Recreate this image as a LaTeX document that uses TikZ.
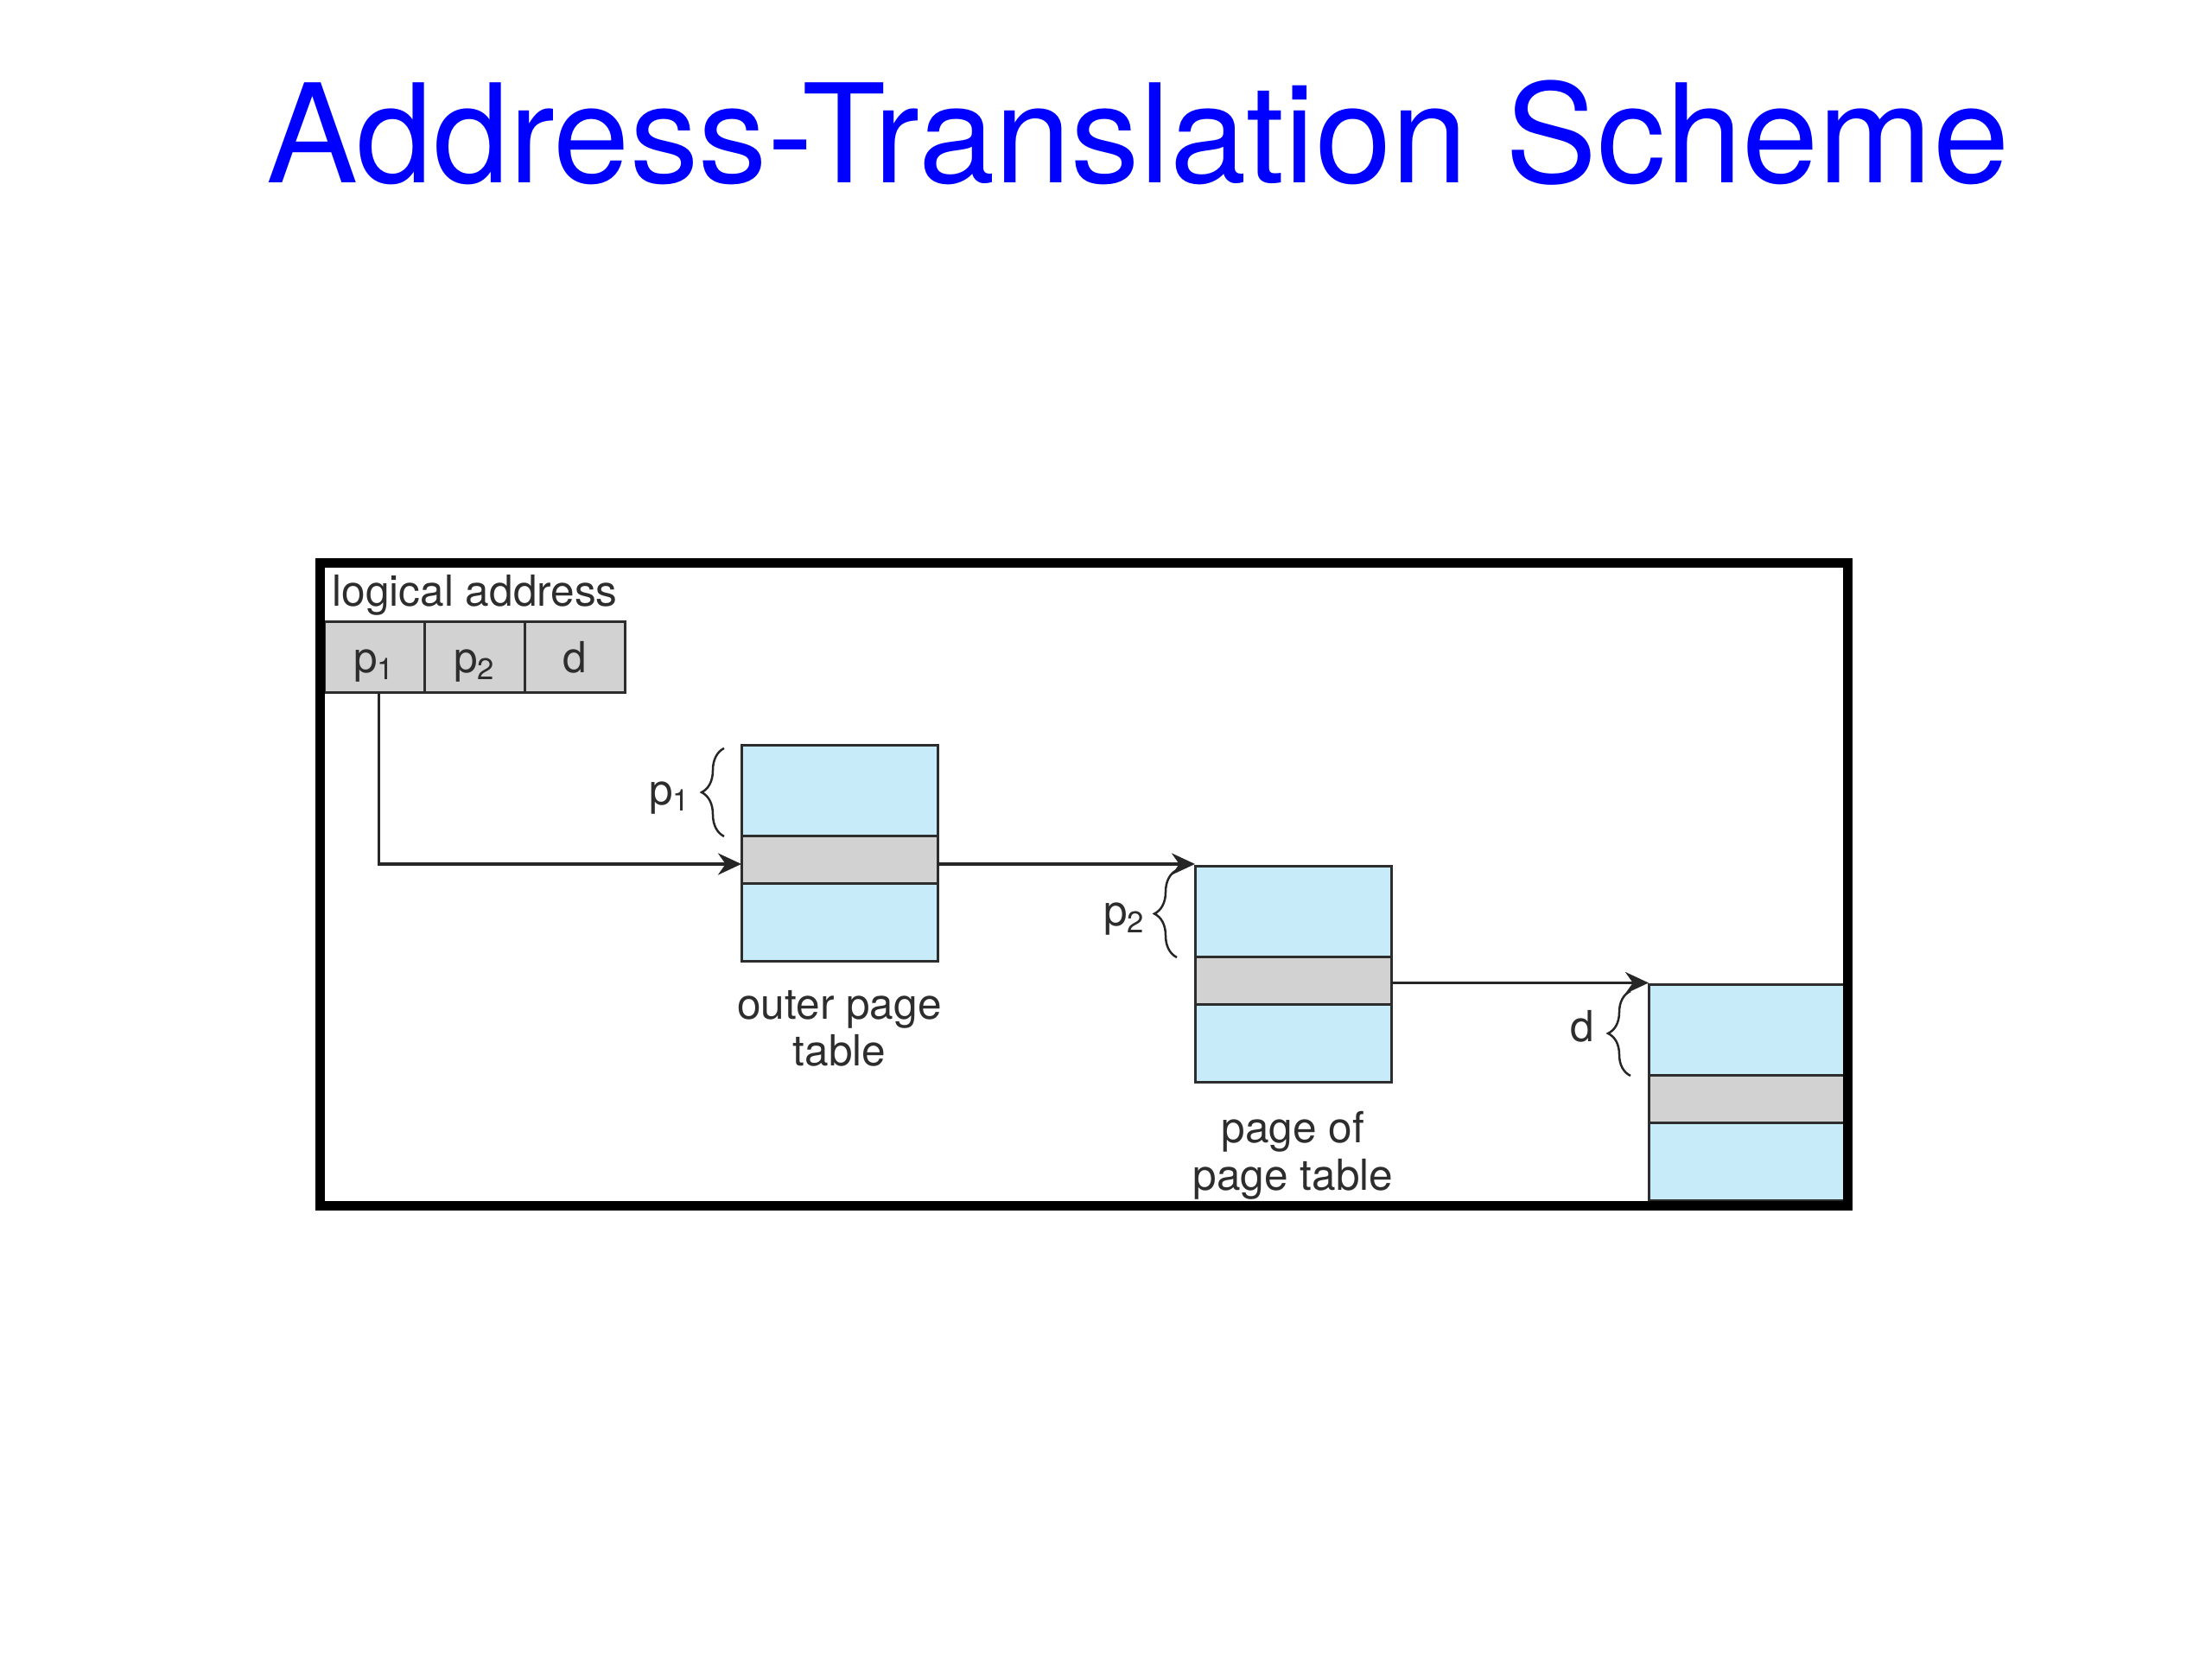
\documentclass[tikz,border=0pt]{standalone}
\usepackage{fontspec}
\setmainfont{TeX Gyre Heros}
\usepackage{tikz}
\usetikzlibrary{positioning, arrows.meta, decorations.pathreplacing}

\definecolor{titleblue}{RGB}{0,0,255}
\definecolor{tblblue}{RGB}{200,235,250}
\definecolor{cellgray}{RGB}{210,210,210}
\definecolor{inkgray}{RGB}{45,45,45}

\begin{document}
\begin{tikzpicture}[
    font=\fontsize{14.1}{15.4}\selectfont, text=inkgray,
    addrcell/.style={draw=inkgray, fill=cellgray, line width=0.3mm, inner sep=0pt, outer sep=0pt,
      minimum width=1.16cm, minimum height=0.82cm, text height=3.5mm, text depth=0mm},
    slot/.style={draw=inkgray, line width=0.3mm, inner sep=0pt, outer sep=0pt, minimum width=2.27cm},
    fwd/.style={draw=black!85, line width=0.35mm, -{Stealth[length=2.7mm, width=2.5mm]}},
    brc/.style={draw=black!85, line width=0.25mm, decorate, decoration={brace, amplitude=2.6mm}}
  ]
  \useasboundingbox (0,0) rectangle (25.6,19.2);

  % Title
  \node[font=\fontsize{45.2}{50}\selectfont, text=titleblue, anchor=base, inner sep=0pt]
    (title) at (13.17,17.08) {Address-Translation Scheme};

  % Logical address p1 | p2 | d
  \node[anchor=base west, inner sep=0pt] (lalbl) at (3.84,12.18) {logical address};
  \node[addrcell] (p1) at (4.335,11.59) {p\textsubscript{1}};
  \node[addrcell, right=0cm of p1] (p2) {p\textsubscript{2}};
  \node[addrcell, right=0cm of p2] (dd) {d};

  % Outer page table
  \node[slot, fill=tblblue, minimum height=1.05cm, anchor=north west] (outTop) at (8.58,10.57) {};
  \node[slot, fill=cellgray, minimum height=0.55cm, below=0cm of outTop] (outRow) {};
  \node[slot, fill=tblblue, minimum height=0.90cm, below=0cm of outRow] (outBot) {};
  \node[below=3.3mm of outBot, align=center, inner sep=0pt] (outLbl) {outer page\\table};

  % Page of page table
  \node[slot, fill=tblblue, minimum height=1.05cm, anchor=north west] (pgTop) at (13.83,9.17) {};
  \node[slot, fill=cellgray, minimum height=0.55cm, below=0cm of pgTop] (pgRow) {};
  \node[slot, fill=tblblue, minimum height=0.90cm, below=0cm of pgRow] (pgBot) {};
  \node[below=3.3mm of pgBot, align=center, inner sep=0pt] (pgLbl) {page of\\page table};

  % Frame in memory
  \node[slot, fill=tblblue, minimum height=1.05cm, anchor=north west] (frTop) at (19.08,7.80) {};
  \node[slot, fill=cellgray, minimum height=0.55cm, below=0cm of frTop] (frRow) {};
  \node[slot, fill=tblblue, minimum height=0.90cm, below=0cm of frRow] (frBot) {};

  % Arrows
  \draw[fwd] ([xshift=0.5mm]p1.south) |- ([yshift=-0.45mm]outRow.west);
  \draw[fwd] ([yshift=-0.45mm]outRow.east) -- ([yshift=-0.45mm]outRow.east -| pgTop.west);
  \draw[fwd] ([yshift=-0.2mm]pgRow.east) -- ([yshift=-0.2mm]pgRow.east -| frTop.west);

  % Braces with offsets
  \draw[brc] ([xshift=-2mm]outTop.south west) -- ([xshift=-2mm, yshift=-0.3mm]outTop.north west)
    node[midway, anchor=mid east, xshift=-3.7mm, yshift=-0.5mm, inner sep=0pt] (lblPa) {p\textsubscript{1}};
  \draw[brc] ([xshift=-2.1mm]pgTop.south west) -- ([xshift=-2.1mm, yshift=-0.4mm]pgTop.north west)
    node[midway, anchor=mid east, xshift=-3.5mm, yshift=-0.5mm, inner sep=0pt] (lblPb) {p\textsubscript{2}};
  \draw[brc] ([xshift=-2.1mm]frTop.south west) -- ([xshift=-2.1mm, yshift=-0.7mm]frTop.north west)
    node[midway, anchor=mid east, xshift=-4.1mm, inner sep=0pt] (lblD) {d};

  % Outer border
  \draw[line width=1.1mm] (3.70,5.24) rectangle (21.38,12.68);
\end{tikzpicture}
\end{document}
